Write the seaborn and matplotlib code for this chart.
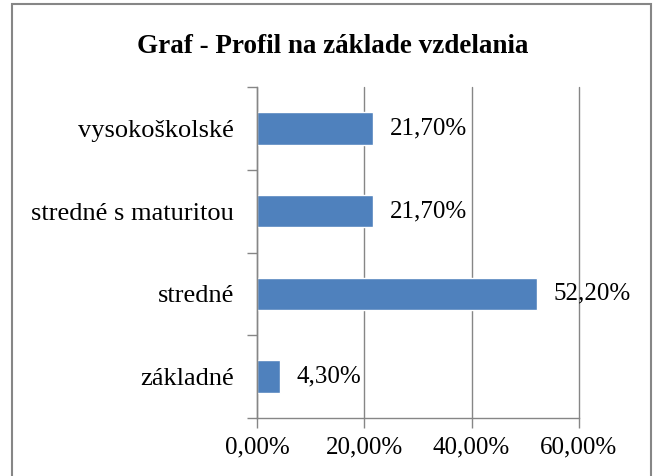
import pandas as pd
import seaborn as sns
import matplotlib.pyplot as plt
from matplotlib.patches import Rectangle
from matplotlib.ticker import FuncFormatter

# data
categories = ["vysokoškolské", "stredné s maturitou", "stredné", "základné"]
values = [21.7, 21.7, 52.2, 4.3]
x_ticks = [0, 20, 40, 60]

df = pd.DataFrame({"Vzdelanie": categories, "Podiel": values})

sns.set_style("white")
plt.rcParams["font.family"] = ["Liberation Serif", "DejaVu Serif"]
plt.rcParams["text.color"] = "black"
plt.rcParams["xtick.color"] = "black"
plt.rcParams["ytick.color"] = "black"

grey = "#868686"

fig = plt.figure(figsize=(6.54, 4.76), dpi=100)
ax = fig.add_axes([0.393, 0.122, 0.492, 0.695])

sns.barplot(data=df, x="Podiel", y="Vzdelanie", order=categories, orient="h",
            color="#4F81BD", saturation=1, width=0.39, ax=ax)

ax.set_xlim(0, 60)
ax.set_ylim(3.5, -0.5)
ax.set_xticks(x_ticks)
ax.xaxis.set_major_formatter(FuncFormatter(lambda v, p: f"{v:.2f}%".replace(".", ",")))
ax.tick_params(axis="x", bottom=True, length=7, width=1, color=grey,
               labelcolor="black", labelsize=18, pad=6)
ax.tick_params(axis="y", which="major", length=0, labelsize=19, labelcolor="black", pad=16.5)
ax.set_yticks([-0.5, 0.5, 1.5, 2.5, 3.5], minor=True)
ax.tick_params(axis="y", which="minor", left=True, length=7, width=1, color=grey)
ax.set(xlabel=None, ylabel=None)

ax.grid(axis="x", color=grey, linewidth=1)
ax.set_axisbelow(True)
for s in ["top", "right"]:
    ax.spines[s].set_visible(False)
for s in ["left", "bottom"]:
    ax.spines[s].set_color(grey)
    ax.spines[s].set_linewidth(1)
for l in ax.get_xgridlines():
    l.set_clip_on(False)

labels = [f"{v:.2f}%".replace(".", ",") for v in values]
ax.bar_label(ax.containers[0], labels=labels, padding=12, fontsize=18, color="black")

fig.suptitle("Graf - Profil na základe vzdelania", fontsize=19.5, fontweight="bold",
             x=0.508, y=0.903, va="center", color="black")

# outer chart frame
fig.patches.append(Rectangle((12 / 654, -0.05), 639 / 654, 1.05 - 4 / 476,
                             transform=fig.transFigure, fill=False,
                             edgecolor=grey, linewidth=1.5))

plt.savefig("out.png", dpi=100)
